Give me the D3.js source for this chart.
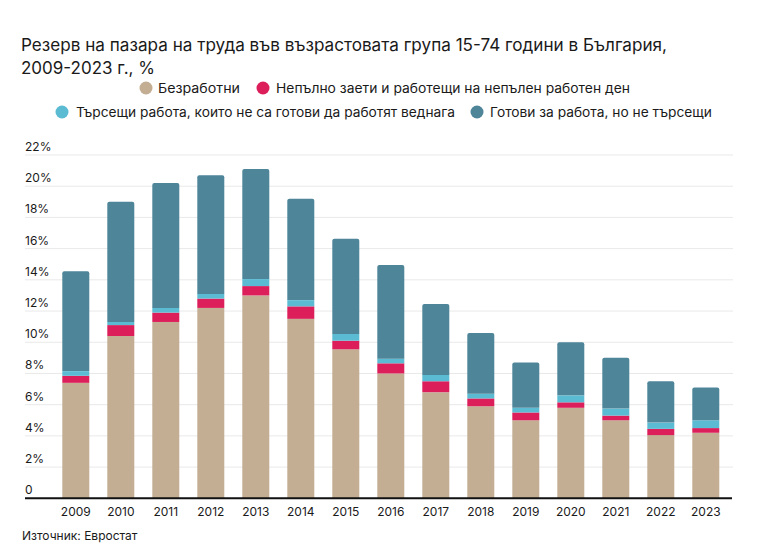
<!DOCTYPE html>
<html><head><meta charset="utf-8">
<script src="https://cdn.jsdelivr.net/npm/d3@7"></script>
<style>
html,body{margin:0;padding:0;background:#fff;}
text{font-family:Inter,"Noto Sans",sans-serif;fill:#1a1a1a;}
</style></head>
<body><svg id="c" width="776" height="552"></svg>
<script>
const years = ["2009","2010","2011","2012","2013","2014","2015","2016","2017","2018","2019","2020","2021","2022","2023"];
const unemployed     = [7.4,10.4,11.3,12.2,13.0,11.5,9.55,8.0,6.8,5.9,5.0,5.8,5.0,4.05,4.2];
const underemployed  = [0.45,0.7,0.6,0.6,0.6,0.8,0.55,0.65,0.7,0.5,0.5,0.35,0.3,0.4,0.3];
const seekingNotAvail= [0.3,0.2,0.3,0.3,0.45,0.4,0.43,0.3,0.4,0.3,0.3,0.45,0.45,0.4,0.5];
const availNotSeeking= [6.4,7.7,8.0,7.6,7.05,6.5,6.1,6.0,4.55,3.9,2.9,3.4,3.25,2.65,2.1];
const seriesNames = ["Безработни","Непълно заети и работещи на непълен работен ден","Търсещи работа, които не са готови да работят веднага","Готови за работа, но не търсещи"];
const colors = ["#c3ad93","#dc1f5b","#5bbbd2","#4e8599"];
const yTicks = [0,2,4,6,8,10,12,14,16,18,20,22];
const titleLines = ["Резерв на пазара на труда във възрастовата група 15-74 години в България,","2009-2023 г., %"];
const source = "Източник: Евростат";

const svg = d3.select("#c");
const rows = years.map((y,i)=>({year:y, s0:unemployed[i], s1:underemployed[i], s2:seekingNotAvail[i], s3:availNotSeeking[i]}));
const keys = ["s0","s1","s2","s3"];
const stacked = d3.stack().keys(keys)(rows);

const x = d3.scaleBand().domain(years).range([53.3,728.3]).paddingInner(0.4).paddingOuter(0.2);
const y = d3.scaleLinear().domain([0,22]).range([498.3,155]);

function fitText(sel, target){
  const n = sel.node(); const w = n.getComputedTextLength();
  if (Math.abs(w-target)>2) sel.attr("textLength",target).attr("lengthAdjust","spacingAndGlyphs");
}

// title
const t1 = svg.append("text").attr("x",21).attr("y",51).attr("font-size",17).text(titleLines[0]);
fitText(t1,646);
const t2 = svg.append("text").attr("x",21).attr("y",74).attr("font-size",17).text(titleLines[1]);
fitText(t2,133);

// legend
const legendRows = [
  [{i:0,cx:146,tx:158,tw:82},{i:1,cx:263,tx:276,tw:354}],
  [{i:2,cx:62,tx:76,tw:379},{i:3,cx:477,tx:490,tw:222}]
];
const legY = [88,112];
legendRows.forEach((r,ri)=>{
  r.forEach(it=>{
    svg.append("circle").attr("cx",it.cx).attr("cy",legY[ri]).attr("r",6.5).attr("fill",colors[it.i]);
    const t = svg.append("text").attr("x",it.tx).attr("y",legY[ri]+4.5).attr("font-size",13).text(seriesNames[it.i]);
    fitText(t,it.tw);
  });
});

// grid
svg.append("g").selectAll("line").data(yTicks.filter(d=>d>0)).join("line")
  .attr("x1",25).attr("x2",733).attr("y1",d=>y(d)).attr("y2",d=>y(d))
  .attr("stroke","#e9e9e9").attr("stroke-width",1);

// y labels
svg.append("g").selectAll("text").data(yTicks).join("text")
  .attr("x",25).attr("y",d=>y(d)-4).attr("font-size",12)
  .text(d=>d===0?"0":d+"%");

// bars
const g = svg.append("g");
stacked.forEach((layer,li)=>{
  g.append("g").attr("fill",colors[li]).selectAll("path").data(layer).join("path")
    .attr("d",d=>{
      const x0=x(d.data.year), w=x.bandwidth(), yt=y(d[1]), yb=y(d[0]);
      if (li===3){
        const r=2;
        return `M${x0},${yb}V${yt+r}Q${x0},${yt} ${x0+r},${yt}H${x0+w-r}Q${x0+w},${yt} ${x0+w},${yt+r}V${yb}Z`;
      }
      return `M${x0},${yb}V${yt}H${x0+w}V${yb}Z`;
    });
});

// x axis
const xa = svg.append("g").attr("transform","translate(0,498.3)")
  .call(d3.axisBottom(x).tickSize(0).tickPadding(9));
xa.select(".domain").attr("stroke","#111").attr("stroke-width",2).attr("d","M25,0H732");
xa.selectAll("text").attr("font-size",12).attr("font-family","Inter, sans-serif").attr("fill","#1a1a1a");

// source
const s = svg.append("text").attr("x",22).attr("y",540).attr("font-size",12).text(source);
fitText(s,116);
</script></body></html>
